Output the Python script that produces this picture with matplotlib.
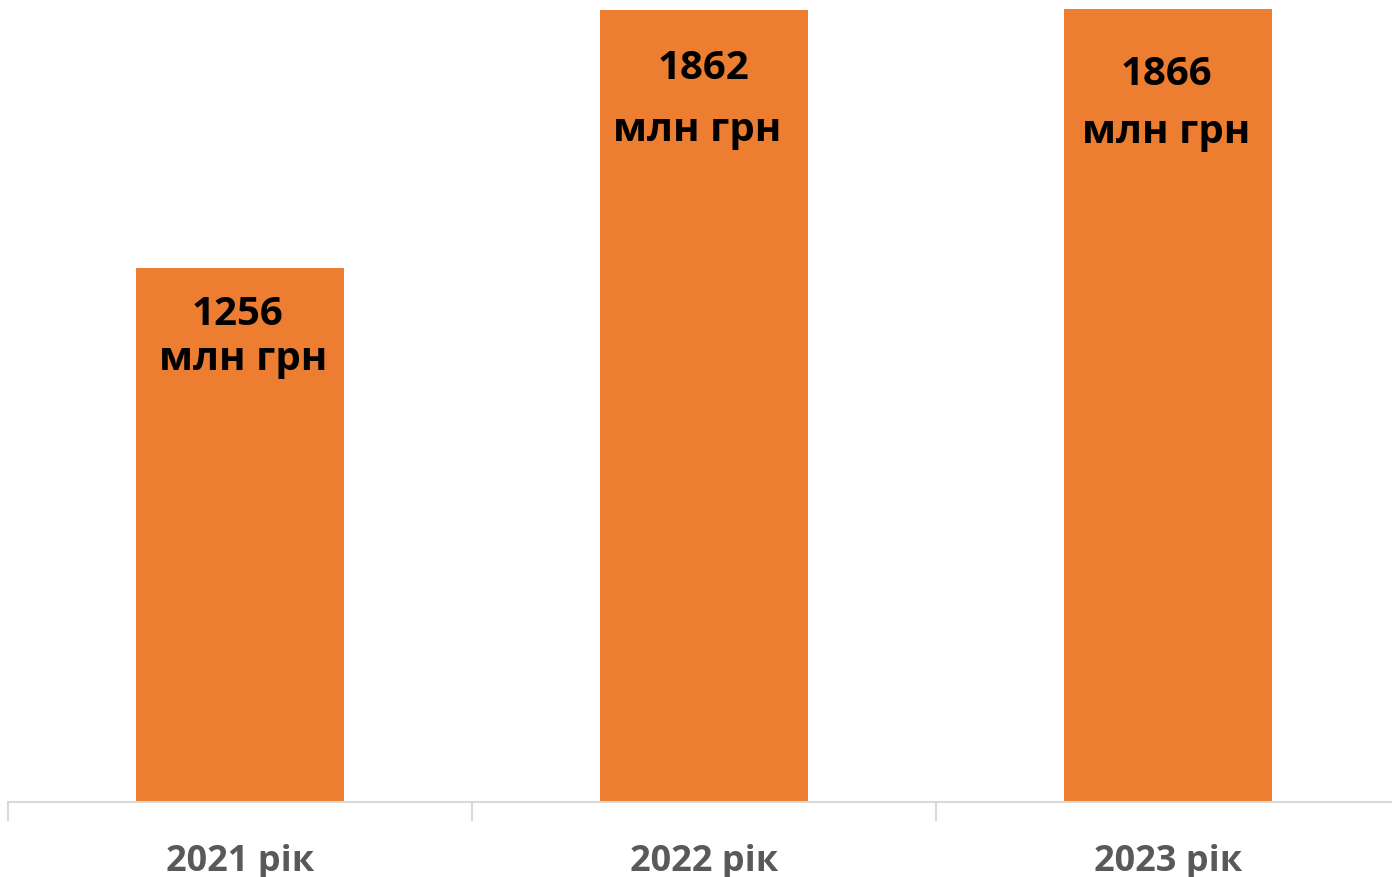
import matplotlib
matplotlib.use("Agg")
import matplotlib.pyplot as plt

categories = ["2021 рік", "2022 рік", "2023 рік"]
values = [1256, 1862, 1866]
unit = "млн грн"

# style: per-label offsets relative to bar top centre (pixels)
value_offsets = [(-3, 47), (0, 58), (-2, 66)]
unit_offsets = [(3, 92), (-7, 120), (-2, 124)]

BAR = "#ED7D31"
GRID = "#D9D9D9"
TICK = "#595959"
FONT = ["Open Sans", "DejaVu Sans"]

fig = plt.figure(figsize=(13.92, 8.77), dpi=100)
ax = fig.add_axes([8 / 1392, 75 / 877, 1392 / 1392, 802 / 877])

x = list(range(len(categories)))
ax.bar(x, values, width=0.448, color=BAR, zorder=2)

ax.set_xlim(-0.5, len(categories) - 0.5)
ax.set_ylim(0, 1886)

for s in ["top", "right", "left"]:
    ax.spines[s].set_visible(False)
ax.spines["bottom"].set_color(GRID)
ax.spines["bottom"].set_linewidth(1.5)
ax.set_yticks([])

ax.set_xticks(x)
ax.set_xticklabels(categories, fontfamily=FONT, fontweight="bold",
                   fontsize=26, color=TICK)
ax.tick_params(axis="x", which="major", length=0, pad=30)
ax.set_xticks([i - 0.5 for i in range(len(categories) + 1)], minor=True)
ax.tick_params(axis="x", which="minor", length=14, width=1.5, color=GRID)

for xi, v, (vx, vo), (ux, uo) in zip(x, values, value_offsets, unit_offsets):
    ax.annotate(str(v), xy=(xi, v), xytext=(vx, -vo), textcoords="offset pixels",
                ha="center", va="center", fontfamily=FONT, fontweight="bold",
                fontsize=29, color="black")
    ax.annotate(unit, xy=(xi, v), xytext=(ux, -uo), textcoords="offset pixels",
                ha="center", va="center", fontfamily=FONT, fontweight="bold",
                fontsize=29, color="black")

fig.savefig("out.png", dpi=100)
